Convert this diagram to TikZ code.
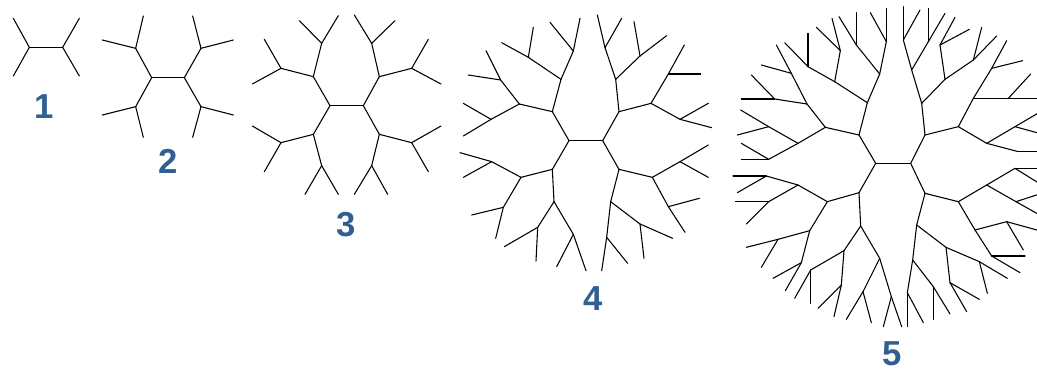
\documentclass[tikz,border=0pt]{standalone}
\usepackage{fontspec}
\setmainfont{Liberation Sans}
\definecolor{lab}{RGB}{50,95,145}
\newcommand\tkid[3]{\coordinate (#2) at #3; \draw[edge] (#1)--(#2);}
\newcommand\tfork[5]{\tkid{#1}{#2}{#3}\tkid{#1}{#4}{#5}}
\begin{document}
\begin{tikzpicture}[x=0.75pt,y=-0.75pt,
  edge/.style={line width=0.8pt,black,line cap=round},
  lbl/.style={text=lab,font=\fontsize{26}{30}\selectfont\bfseries,inner sep=0pt},
  zoomed/.style={x=0.25pt,y=-0.25pt}]
\useasboundingbox (0,0) rectangle (1037,371);
\clip (0,0) rectangle (1037,371);
% ---------- tree 1 and tree 2 ----------
\begin{scope}[zoomed]
\coordinate (a0) at (88,142); \coordinate (a1) at (188,142);
\draw[edge] (a0)--(a1);
\tfork{a0}{a0u}{(40,55)}{a0d}{(40,228)}
\tfork{a1}{a1u}{(238,55)}{a1d}{(238,228)}
\coordinate (b0) at (455,233); \coordinate (b1) at (553,233);
\draw[edge] (b0)--(b1);
\tfork{b0}{b0u}{(407,145)}{b0d}{(407,320)}
\tfork{b0u}{b0ua}{(430,48)}{b0ub}{(307,120)}
\tfork{b0d}{b0da}{(307,345)}{b0db}{(430,412)}
\tfork{b1}{b1u}{(603,145)}{b1d}{(603,320)}
\tfork{b1u}{b1ua}{(578,48)}{b1ub}{(700,120)}
\tfork{b1d}{b1da}{(700,345)}{b1db}{(578,412)}
\end{scope}
% ---------- tree 3 ----------
\begin{scope}[xshift=180pt,zoomed]
\coordinate (cL) at (270,317); \coordinate (cR) at (370,317);
\draw[edge] (cL)--(cR);
\tfork{cL}{cLu}{(220,230)}{cLd}{(220,403)}
\tfork{cLu}{c1}{(245,130)}{c2}{(123,205)}
\tfork{c1}{c1a}{(295,47)}{c1b}{(178,62)}
\tfork{c2}{c2a}{(73,118)}{c2b}{(37,252)}
\tfork{cLd}{c3}{(123,428)}{c4}{(245,497)}
\tfork{c3}{c3a}{(37,378)}{c3b}{(73,515)}
\tfork{c4}{c4a}{(195,583)}{c4b}{(295,583)}
\tfork{cR}{cRu}{(418,230)}{cRd}{(418,403)}
\tfork{cRu}{c5}{(395,130)}{c6}{(515,205)}
\tfork{c5}{c5a}{(343,45)}{c5b}{(465,62)}
\tfork{c6}{c6a}{(565,118)}{c6b}{(603,252)}
\tfork{cRd}{c7}{(515,428)}{c8}{(395,497)}
\tfork{c7}{c7a}{(603,378)}{c7b}{(565,515)}
\tfork{c8}{c8a}{(343,583)}{c8b}{(443,583)}
\end{scope}
% ---------- tree 4 ----------
\begin{scope}[xshift=337.5pt,zoomed]
\coordinate (dA) at (357,422); \coordinate (dB) at (458,422);
\draw[edge] (dA)--(dB);
\tfork{dA}{dC1}{(307,335)}{dC2}{(307,508)}
\tfork{dB}{dC3}{(507,335)}{dC4}{(507,508)}
\tfork{dC1}{dD1}{(333,238)}{dD2}{(208,312)}
\tfork{dC2}{dD3}{(312,605)}{dD4}{(213,532)}
\tfork{dC3}{dD5}{(497,238)}{dD6}{(603,310)}
\tfork{dC4}{dD7}{(607,532)}{dD8}{(482,605)}
\tfork{dD1}{dE1}{(370,153)}{dE2}{(235,172)}
\tfork{dD2}{dE3}{(152,240)}{dE4}{(123,358)}
\tfork{dD4}{dE5}{(125,485)}{dE6}{(160,622)}
\tfork{dD3}{dE7}{(263,682)}{dE8}{(370,703)}
\tfork{dD5}{dE9}{(465,143)}{dE10}{(570,168)}
\tfork{dD6}{dE11}{(655,222)}{dE12}{(690,358)}
\tfork{dD7}{dE13}{(690,485)}{dE14}{(655,620)}
\tfork{dD8}{dE15}{(570,672)}{dE16}{(470,712)}
\tfork{dE1}{dF1}{(390,55)}{dF2}{(300,67)}
\tfork{dE2}{dF3}{(250,82)}{dF4}{(155,128)}
\tfork{dE3}{dF5}{(108,152)}{dF6}{(55,225)}
\tfork{dE4}{dF7}{(40,310)}{dF8}{(40,408)}
\tfork{dE5}{dF9}{(30,458)}{dF10}{(40,532)}
\tfork{dE6}{dF11}{(65,645)}{dF12}{(137,715)}
\tfork{dE7}{dF13}{(163,740)}{dF14}{(258,783)}
\tfork{dE8}{dF15}{(320,800)}{dF16}{(408,812)}
\tfork{dE9}{dF17}{(442,45)}{dF18}{(515,55)}
\tfork{dE10}{dF19}{(552,65)}{dF20}{(650,107)}
\tfork{dE11}{dF21}{(703,135)}{dF22}{(752,222)}
\tfork{dE12}{dF23}{(775,310)}{dF24}{(785,383)}
\tfork{dE13}{dF25}{(775,435)}{dF26}{(775,532)}
\tfork{dE14}{dF27}{(748,595)}{dF28}{(705,697)}
\tfork{dE15}{dF29}{(668,715)}{dF30}{(582,775)}
\tfork{dE16}{dF31}{(533,790)}{dF32}{(455,812)}
\end{scope}
% ---------- tree 5 ----------
\begin{scope}[xshift=546pt,zoomed]
\coordinate (eL) at (443,490);
\end{scope}
\begin{scope}[xshift=667.5pt,zoomed]
\coordinate (eR) at (62,490);
\end{scope}
\draw[edge] (eL)--(eR);
% top left
\begin{scope}[xshift=546pt,zoomed]
\tkid{eL}{p1}{(393,405)}
\tfork{p1}{p2a}{(292,382)}{p2b}{(418,308)}
\tfork{p2b}{p3a}{(455,222)}{p3b}{(320,245)}
\tfork{p3a}{p4a}{(475,125)}{p4b}{(385,135)}
\tfork{p4a}{p5a}{(475,25)}{p5b}{(427,38)}
\tfork{p4b}{p5c}{(385,38)}{p5d}{(333,50)}
\tfork{p3b}{p4c}{(240,200)}{p4d}{(337,152)}
\tfork{p4c}{p5e}{(240,100)}{p5f}{(170,128)}
\tfork{p4d}{p5g}{(312,55)}{p5h}{(265,82)}
\tfork{p2a}{p3c}{(237,312)}{p3d}{(210,430)}
\tfork{p3c}{p4e}{(140,297)}{p4f}{(190,220)}
\tfork{p4e}{p5i}{(40,297)}{p5j}{(70,225)}
\tfork{p4f}{p5k}{(100,195)}{p5l}{(145,135)}
\tfork{p3d}{p4g}{(122,380)}{p4h}{(122,478)}
\tfork{p4g}{p5m}{(38,330)}{p5n}{(28,405)}
\tfork{p4h}{p5o}{(40,430)}{p5p}{(40,478)}
\end{scope}
% top right
\begin{scope}[xshift=667.5pt,zoomed]
\tkid{eR}{q1}{(105,405)}
\tfork{q1}{q2a}{(205,380)}{q2b}{(95,310)}
\tfork{q2b}{q3a}{(65,210)}{q3b}{(165,238)}
\tfork{q3a}{q4a}{(40,120)}{q4b}{(115,125)}
\tfork{q4a}{q5a}{(40,20)}{q5b}{(90,30)}
\tfork{q4b}{q5c}{(115,25)}{q5d}{(165,40)}
\tfork{q3b}{q4c}{(150,135)}{q4d}{(250,180)}
\tfork{q4c}{q5e}{(195,52)}{q5f}{(238,88)}
\tfork{q4d}{q5g}{(275,82)}{q5h}{(320,108)}
\tfork{q2a}{q3c}{(250,295)}{q3d}{(290,430)}
\tfork{q3c}{q4e}{(305,205)}{q4f}{(355,295)}
\tfork{q4e}{q5i}{(350,122)}{q5j}{(398,182)}
\tfork{q4f}{q5k}{(470,295)}{q5l}{(422,222)}
\tfork{q3d}{q4g}{(375,380)}{q4h}{(385,455)}
\tfork{q4g}{q5m}{(462,329)}{q5n}{(470,406)}
\tkid{q4h}{q5o}{(485,455)}
\end{scope}
% bottom left
\begin{scope}[xshift=546pt,yshift=-120pt,zoomed]
\tkid{eL}{r1}{(393,98)}
\tfork{r1}{r2a}{(298,125)}{r2b}{(398,198)}
\tfork{r2a}{r3a}{(210,75)}{r3b}{(245,212)}
\tfork{r3a}{r4a}{(115,48)}{r4b}{(122,125)}
\tfork{r4a}{r5a}{(15,48)}{r5b}{(28,98)}
\tfork{r4b}{r5c}{(22,125)}{r5d}{(55,192)}
\tfork{r3b}{r4c}{(150,238)}{r4d}{(220,308)}
\tfork{r4c}{r5e}{(55,262)}{r5f}{(100,322)}
\tfork{r4d}{r5g}{(135,355)}{r5h}{(172,392)}
\tfork{r2b}{r3c}{(348,272)}{r3d}{(455,295)}
\tfork{r3c}{r4e}{(248,330)}{r4f}{(340,375)}
\tfork{r4e}{r5i}{(248,430)}{r5j}{(200,415)}
\tfork{r4f}{r5k}{(270,445)}{r5l}{(318,470)}
\tfork{r3d}{r4g}{(405,395)}{r4h}{(490,410)}
\tfork{r4g}{r5m}{(355,478)}{r5n}{(430,488)}
\tfork{r4h}{r5o}{(466,500)}{r5p}{(521,500)}
\end{scope}
% bottom right
\begin{scope}[xshift=667.5pt,yshift=-120pt,zoomed]
\tkid{eR}{s1}{(105,100)}
\tfork{s1}{s2a}{(205,125)}{s2b}{(80,195)}
\tfork{s2a}{s3a}{(290,75)}{s3b}{(255,210)}
\tfork{s3a}{s4a}{(375,25)}{s4b}{(378,125)}
\tfork{s4a}{s5a}{(470,25)}{s5b}{(460,78)}
\tfork{s4b}{s5c}{(470,95)}{s5d}{(465,174)}
\tfork{s3b}{s4c}{(350,185)}{s4d}{(305,288)}
\tfork{s4c}{s5e}{(455,214)}{s5f}{(400,270)}
\tfork{s4d}{s5g}{(405,288)}{s5h}{(390,338)}
\tfork{s2b}{s3c}{(168,262)}{s3d}{(68,300)}
\tfork{s3c}{s4e}{(268,305)}{s4f}{(180,368)}
\tfork{s4e}{s5i}{(352,355)}{s5j}{(292,400)}
\tfork{s4f}{s5k}{(268,418)}{s5l}{(230,455)}
\tfork{s3d}{s4g}{(130,380)}{s4h}{(52,398)}
\tfork{s4g}{s5m}{(130,478)}{s5n}{(180,462)}
\tfork{s4h}{s5o}{(52,500)}{s5p}{(100,488)}
\end{scope}
% ---------- labels ----------
\node[lbl] (l1) at (44,107) {1};
\node[lbl] (l2) at (168,161) {2};
\node[lbl] (l3) at (346,225) {3};
\node[lbl] (l4) at (593,299) {4};
\node[lbl] (l5) at (892,354) {5};
\end{tikzpicture}
\end{document}
